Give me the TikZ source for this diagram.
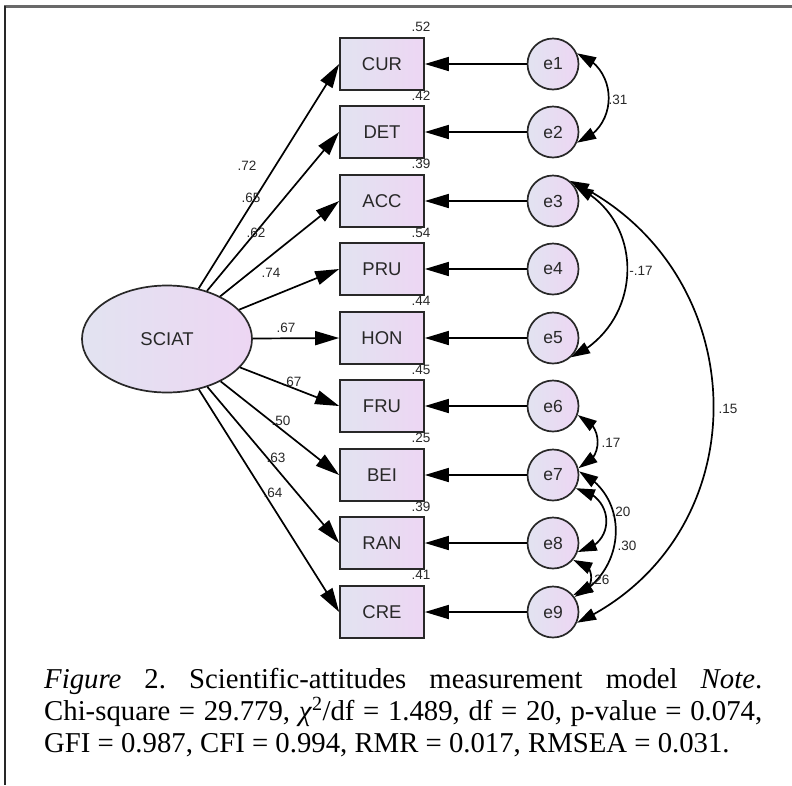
\documentclass[tikz,border=0pt]{standalone}
\usepackage{fontspec}
\setmainfont{Liberation Serif}
\newfontfamily\amosfont{Liberation Sans}
\usetikzlibrary{arrows.meta,shapes.geometric,bending}
\definecolor{fillL}{RGB}{226,227,241}
\definecolor{fillR}{RGB}{237,214,243}
\definecolor{inkgray}{RGB}{40,40,40}
\frenchspacing
\begin{document}
\begin{tikzpicture}[x=1pt,y=1pt,
  obs/.style={draw=inkgray, line width=1.7pt, minimum width=84pt, minimum height=52pt, inner sep=0pt,
    left color=fillL, right color=fillR, text=inkgray, font=\amosfont\fontsize{18.5}{18.5}\selectfont},
  errc/.style={circle, draw=inkgray, line width=1.7pt, minimum size=51pt, inner sep=0pt,
    left color=fillL, right color=fillR, text=inkgray, font=\amosfont\fontsize{17.5}{17.5}\selectfont},
  lat/.style={ellipse, draw=inkgray, line width=1.7pt, minimum width=170pt, minimum height=107pt, inner sep=0pt,
    left color=fillL, right color=fillR, text=inkgray, font=\amosfont\fontsize{18.5}{18.5}\selectfont},
  loadarrow/.style={line width=1.7pt, draw=black, -{Triangle[length=24pt,width=14pt]}},
  cov/.style={line width=1.7pt, draw=black, {Triangle[length=19pt,width=12pt]}-{Triangle[length=19pt,width=12pt]}},
  coef/.style={font=\amosfont\fontsize{13.5}{13.5}\selectfont, text=inkgray, inner sep=0pt},
  capline/.style={anchor=base west, inner sep=0pt, font=\frenchspacing\fontsize{28.75}{32}\selectfont},
]
\useasboundingbox (0,0) rectangle (792,-785);
\fill[white] (0,0) rectangle (792,-785);
% frame
\draw[line width=2.5pt, draw={rgb,255:red,105;green,105;blue,105}] (4,-6.5) -- (792,-6.5);
\draw[line width=1.2pt, draw=inkgray] (5,-6) -- (5,-785);

% latent
\node[lat] (sciat) at (167,-339) {SCIAT};

% observed
\node[obs] (cur) at (382,-64) {CUR};
\node[obs] (det) at (382,-132) {DET};
\node[obs] (acc) at (382,-201) {ACC};
\node[obs] (pru) at (382,-269) {PRU};
\node[obs] (hon) at (382,-338) {HON};
\node[obs] (fru) at (382,-406) {FRU};
\node[obs] (bei) at (382,-475) {BEI};
\node[obs] (ran) at (382,-543) {RAN};
\node[obs] (cre) at (382,-612) {CRE};

% errors
\node[errc] (e1) at (553,-64) {e1};
\node[errc] (e2) at (553,-132) {e2};
\node[errc] (e3) at (553,-201) {e3};
\node[errc] (e4) at (553,-269) {e4};
\node[errc] (e5) at (553,-338) {e5};
\node[errc] (e6) at (553,-406) {e6};
\node[errc] (e7) at (553,-475) {e7};
\node[errc] (e8) at (553,-543) {e8};
\node[errc] (e9) at (553,-612) {e9};

% R-squared
\node[coef] (r1) at (421,-27) {.52};
\node[coef] (r2) at (421,-95.5) {.42};
\node[coef] (r3) at (421,-164) {.39};
\node[coef] (r4) at (421,-232.5) {.54};
\node[coef] (r5) at (421,-301) {.44};
\node[coef] (r6) at (421,-369.5) {.45};
\node[coef] (r7) at (421,-438) {.25};
\node[coef] (r8) at (421,-506.5) {.39};
\node[coef] (r9) at (421,-575) {.41};

% loadings
\foreach \t in {cur,det,acc,pru,hon,fru,bei,ran,cre}
  \draw[loadarrow] (sciat) -- (\t.west);
\node[coef] (l1) at (247,-166) {.72};
\node[coef] (l2) at (251,-198) {.65};
\node[coef] (l3) at (256,-233) {.62};
\node[coef] (l4) at (271,-273) {.74};
\node[coef] (l5) at (286,-328) {.67};
\node[coef] (l6) at (292,-382) {.67};
\node[coef] (l7) at (281,-421) {.50};
\node[coef] (l8) at (276,-458) {.63};
\node[coef] (l9) at (273,-493) {.64};

% error paths
\draw[loadarrow] (e1) -- (cur);
\draw[loadarrow] (e2) -- (det);
\draw[loadarrow] (e3) -- (acc);
\draw[loadarrow] (e4) -- (pru);
\draw[loadarrow] (e5) -- (hon);
\draw[loadarrow] (e6) -- (fru);
\draw[loadarrow] (e7) -- (bei);
\draw[loadarrow] (e8) -- (ran);
\draw[loadarrow] (e9) -- (cre);

% covariances
\draw[cov] (e1.24) .. controls +(-19.3:44.7) and +(19.3:44.7) .. (e2.-24);
\draw[cov] (e3.35) .. controls +(-24.5:80) and +(24.5:80) .. (e5.-47);
\draw[cov] (e3.50) .. controls +(-25:206) and +(25:206) .. (e9.-24);
\draw[cov] (e6.-20) .. controls +(-17.5:27.3) and +(17.5:27.3) .. (e7.15);
\draw[cov] (e7.-30) .. controls +(-10:40) and +(10:40) .. (e8.-20);
\draw[cov] (e7.8) .. controls +(-26.6:58) and +(26.6:58) .. (e9.35);
\draw[cov] (e8.-40) .. controls +(0:24) and +(0:24) .. (e9.40);

\node[coef] (c1) at (618,-100) {.31};
\node[coef] (c2) at (641,-271) {-.17};
\node[coef] (c3) at (728,-409) {.15};
\node[coef] (c4) at (611,-443) {.17};
\node[coef] (c5) at (621,-512) {.20};
\node[coef] (c6) at (627,-546) {.30};
\node[coef] (c7) at (600,-580) {.26};

% caption
\node[capline] (cap1) at (44,-688) {\makebox[718pt][s]{\textit{Figure} 2. Scientific-attitudes measurement model \textit{Note}.}};
\node[capline] (cap2) at (44,-720) {\makebox[718pt][s]{Chi-square = 29.779, \textit{χ}\textsuperscript{2}/df = 1.489, df = 20, p-value = 0.074,}};
\node[capline] (cap3) at (44,-752) {GFI = 0.987, CFI = 0.994, RMR = 0.017, RMSEA = 0.031.};
\end{tikzpicture}
\end{document}
